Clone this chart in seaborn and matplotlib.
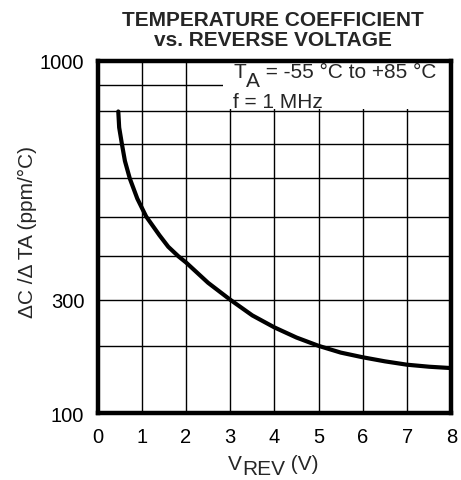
import numpy as np
import pandas as pd
import seaborn as sns
import matplotlib.pyplot as plt
from matplotlib.patches import Rectangle

# curve
v_rev = [0.47, 0.49, 0.55, 0.62, 0.73, 0.90, 1.10, 1.40, 1.60, 1.83, 2.0, 2.5, 3.0,
         3.5, 4.0, 4.5, 5.0, 5.5, 6.0, 6.5, 7.0, 7.5, 8.0]
tc_ppm = [800, 750, 700, 650, 600, 547, 500, 453, 424, 400, 386, 339, 300,
          266, 240, 218, 200, 190, 183, 177, 172, 169, 167]

y_ticks = [100, 200, 300, 400, 500, 600, 700, 800, 900, 1000]
y_labels = ['100', '', '300', '', '', '', '', '', '', '1000']
x_ticks = [0, 1, 2, 3, 4, 5, 6, 7, 8]

# the printed grid is not a true log axis: where each grid value sits (fraction of height)
scale_vals = [0, 100, 200, 300, 400, 500, 600, 700, 800, 900, 1000, 5000]
scale_pos = [-0.191, 0.0, 0.191, 0.322, 0.445, 0.558, 0.666, 0.765, 0.856, 0.931, 1.0, 3.76]


def fwd(v):
    return np.interp(v, scale_vals, scale_pos)


def inv(p):
    return np.interp(p, scale_pos, scale_vals)


df = pd.DataFrame({'v': v_rev, 'tc': tc_ppm})

sns.set_style('white')
plt.rcParams['font.family'] = ['Liberation Sans', 'DejaVu Sans']

fig = plt.figure(figsize=(4.61, 4.81), dpi=100)
ax = fig.add_axes([0.2115, 0.1389, 0.7675, 0.7328])

ax.set_yscale('function', functions=(fwd, inv))
ax.set_xlim(0, 8)
ax.set_ylim(100, 1000)

ax.set_yticks(y_ticks)
ax.set_yticklabels(y_labels)
ax.set_xticks(x_ticks)
ax.grid(True, color='black', linewidth=1.0)
ax.set_axisbelow(True)
ax.tick_params(length=0, labelsize=14.5, colors='black')
ax.tick_params(axis='x', pad=10)
ax.tick_params(axis='y', pad=9.5)

for s in ax.spines.values():
    s.set_linewidth(3.2)
    s.set_color('black')

# white patch behind the conditions text
ax.add_patch(Rectangle((2.84, 808), 5.16, 192, facecolor='white', edgecolor='none', zorder=1))

sns.lineplot(data=df, x='v', y='tc', color='black', linewidth=3, ax=ax, zorder=3)
ax.set_xlabel('')
ax.set_ylabel('')


def sub_text(x, y, main, sub, rest, size=15, drop=6):
    # text with a full size, lowered subscript, like the datasheet
    t1 = fig.text(x, y, main, fontsize=size, ha='left', va='baseline')
    t2 = ax.annotate(sub, xy=(1, 0), xycoords=t1, xytext=(0, -drop), textcoords='offset points',
                     fontsize=size, ha='left', va='bottom')
    ax.annotate(rest, xy=(1, 0), xycoords=t2, xytext=(0, drop), textcoords='offset points',
                fontsize=size, ha='left', va='bottom')


sub_text(233 / 461, 1 - 78.3 / 481, 'T', 'A', ' = -55 °C to +85 °C', drop=6)
fig.text(233 / 461, 1 - 108.3 / 481, 'f = 1 MHz', fontsize=15, ha='left', va='baseline')

sub_text(228 / 461, 1 - 470 / 481, 'V', 'REV', ' (V)', drop=3.5)

fig.text(37 / 461, 1 - 231.5 / 481, 'ΔC /Δ TA (ppm/°C)', fontsize=15, rotation=90,
         ha='right', va='center')

fig.text(273 / 461, 1 - 11 / 481, 'TEMPERATURE COEFFICIENT\nvs. REVERSE VOLTAGE', fontsize=15,
         fontweight='bold', ha='center', va='top', linespacing=1.04)

plt.savefig('out.png', dpi=100)
